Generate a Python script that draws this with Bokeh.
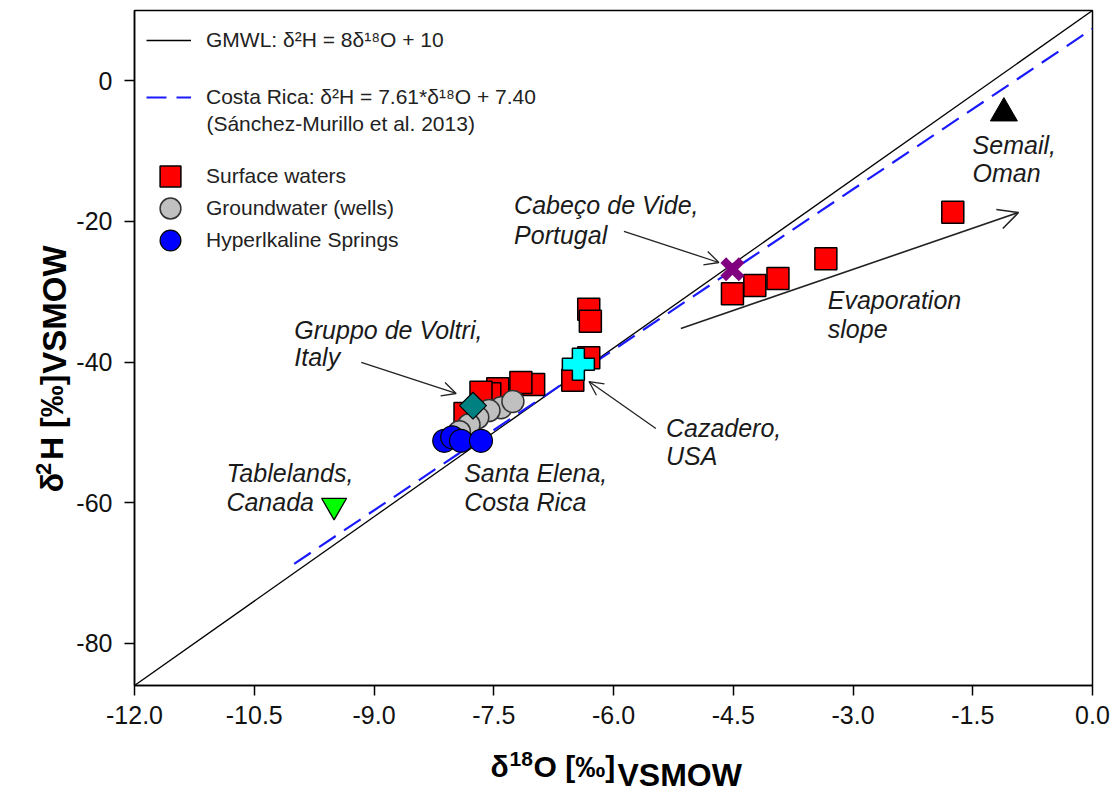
import numpy as np
from bokeh.plotting import figure
from bokeh.layouts import row, column
from bokeh.models import (Range1d, FixedTicker, Label, Arrow, OpenHead, Legend,
                          LegendItem, NumeralTickFormatter)
from bokeh.embed import file_html
from bokeh.resources import INLINE

# ---------------- data ----------------
x_ticks = [-12.0, -10.5, -9.0, -7.5, -6.0, -4.5, -3.0, -1.5, 0.0]
y_ticks = [0, -20, -40, -60, -80]

# Global meteoric water line and Costa Rica LMWL (end points)
gmwl_x = [-12.0, 0.0]
gmwl_y = [-86.0, 10.0]
cr_x = [-10.0, 0.0]
cr_y = [-68.7, 7.4]

# Surface waters (red squares)
sw_x = [-1.75, -3.34, -3.94, -4.23, -4.51, -6.31, -6.29, -6.31, -6.51,
        -7.00, -7.16, -7.45, -7.55, -7.66, -7.86]
sw_y = [-18.7, -25.3, -28.1, -29.1, -30.3, -32.5, -34.2, -39.4, -42.6,
        -43.2, -42.9, -43.8, -44.5, -44.3, -47.3]

# Groundwater (wells) grey circles
gw_x = [-7.41, -7.26, -7.56, -7.70, -7.81, -7.93]
gw_y = [-46.5, -45.6, -46.9, -47.9, -48.9, -49.9]

# Hyperalkaline springs (blue circles)
hs_x = [-8.12, -8.02, -7.91, -7.66]
hs_y = [-51.2, -50.7, -51.2, -51.2]

# Reference sites
voltri_x, voltri_y = [-7.76], [-46.2]      # Gruppo de Voltri, Italy
cazadero_x, cazadero_y = [-6.44], [-40.3]  # Cazadero, USA
cabeco_x, cabeco_y = [-4.51], [-26.8]      # Cabeço de Vide, Portugal
semail_x, semail_y = [-1.11], [-4.6]       # Semail, Oman
table_x, table_y = [-9.50], [-60.4]        # Tablelands, Canada

# ---------------- main figure ----------------
YW = 73     # width of the y-title strip
TOPH = 745  # height of the upper row
p = figure(width=1112 - YW, height=TOPH, x_range=Range1d(-12, 0), y_range=Range1d(-86, 10),
           output_backend="svg", toolbar_location=None,
           min_border_left=133 - YW, min_border_right=20, min_border_top=10,
           min_border_bottom=TOPH - 685)
p.grid.visible = False
p.outline_line_color = "black"
p.outline_line_width = 1.5
p.background_fill_color = "white"
p.border_fill_color = "white"

for ax in (p.xaxis[0], p.yaxis[0]):
    ax.axis_line_width = 1.5
    ax.axis_line_color = "black"
    ax.major_tick_line_width = 1.5
    ax.major_tick_line_color = "black"
    ax.major_tick_out = 10
    ax.major_tick_in = 0
    ax.minor_tick_out = 0
    ax.minor_tick_in = 0
    ax.major_label_text_font = "Liberation Sans"
    ax.major_label_text_font_size = "25px"
    ax.major_label_text_color = "#111111"

p.xaxis.ticker = FixedTicker(ticks=x_ticks)
p.xaxis.formatter = NumeralTickFormatter(format="0.0")
p.xaxis.major_label_standoff = 10
p.yaxis.ticker = FixedTicker(ticks=y_ticks)
p.yaxis.formatter = NumeralTickFormatter(format="0")
p.yaxis.major_label_standoff = 12

# lines
r_g = p.line(gmwl_x, gmwl_y, line_color="black", line_width=1.3)
r_cr = p.line(cr_x, cr_y, line_color="#1a1aff", line_width=2.2, line_dash="20 10")

# arrows
def arrow(x0, y0, x1, y1, size=14, lw=1.3):
    p.add_layout(Arrow(x_start=x0, y_start=y0, x_end=x1, y_end=y1,
                       line_color="#222222", line_width=lw,
                       end=OpenHead(size=size, line_width=lw, line_color="#222222")))

arrow(-5.156, -35.23, -0.927, -18.73, size=20, lw=1.6)   # evaporation slope
arrow(-5.869, -21.43, -4.680, -25.84)                    # Cabeço de Vide
arrow(-9.160, -40.06, -7.971, -44.47)                    # Gruppo de Voltri
arrow(-5.469, -49.45, -6.307, -42.77)                    # Cazadero

# points
r_sw = p.scatter(sw_x, sw_y, marker="square", size=22, fill_color="#ff0000",
                 line_color="black", line_width=1.5)
r_gw = p.scatter(gw_x, gw_y, marker="circle", size=22, fill_color="#c0c0c0",
                 line_color="#333333", line_width=1.5)
r_hs = p.scatter(hs_x, hs_y, marker="circle", size=23, fill_color="#0000ff",
                 line_color="black", line_width=1.2)
p.scatter(voltri_x, voltri_y, marker="square", angle=np.pi / 4, size=19,
          fill_color="#008080", line_color="black", line_width=1.2)
p.scatter(cazadero_x, cazadero_y, marker="plus", size=32, fill_color="#00ffff",
          line_color="black", line_width=1.5)
p.scatter(cabeco_x, cabeco_y, marker="x", size=26, line_color="#800080", line_width=8)
p.scatter(semail_x, semail_y, marker="triangle", size=27, fill_color="black",
          line_color="black")
p.scatter(table_x, table_y, marker="inverted_triangle", size=25, fill_color="#00ff00",
          line_color="black", line_width=1.3)

# legends
common = dict(padding=0, margin=0, border_line_color=None, background_fill_alpha=0,
              label_text_font="Liberation Sans", label_text_font_size="21px",
              label_text_color="#222222")
leg1 = Legend(items=[LegendItem(label="GMWL: δ²H = 8δ¹⁸O + 10", renderers=[r_g]),
                     LegendItem(label="Costa Rica: δ²H = 7.61*δ¹⁸O + 7.40", renderers=[r_cr])],
              location=(12, 570), glyph_width=45, glyph_height=36, label_standoff=15,
              spacing=21, **common)
p.add_layout(leg1)
for lbl, rend, vy in [("Surface waters", r_sw, 483),
                      ("Groundwater (wells)", r_gw, 451),
                      ("Hyperlkaline Springs", r_hs, 419)]:
    p.add_layout(Legend(items=[LegendItem(label=lbl, renderers=[rend])],
                        location=(10, vy), glyph_width=52, glyph_height=52,
                        label_standoff=10, spacing=0, **common))


def lab(fig, x, y, text, size="25px", style="italic", angle=0.0, color="#1a1a1a",
        align="left", baseline="alphabetic"):
    fig.add_layout(Label(x=x, y=y, text=text, text_font="Liberation Sans",
                         text_font_style=style, text_font_size=size, text_color=color,
                         text_align=align, text_baseline=baseline, angle=angle))

lab(p, -11.099, -6.08, "(Sánchez-Murillo et al. 2013)", size="21px", style="normal",
    color="#222222")

# annotations
dy = 1.14
lab(p, -7.245, -18.87 + dy, "Cabeço de Vide,")
lab(p, -7.245, -23.00 + dy, "Portugal")
lab(p, -9.998, -36.51 + dy, "Gruppo de Voltri,")
lab(p, -9.998, -40.49 + dy, "Italy")
lab(p, -5.343, -50.45 + dy, "Cazadero,")
lab(p, -5.343, -54.43 + dy, "USA")
lab(p, -10.849, -56.85 + dy, "Tablelands,")
lab(p, -10.849, -61.11 + dy, "Canada")
lab(p, -7.871, -56.85 + dy, "Santa Elena,")
lab(p, -7.871, -61.11 + dy, "Costa Rica")
lab(p, -1.502, -10.20 + dy, "Semail,")
lab(p, -1.502, -14.32 + dy, "Oman")
lab(p, -3.316, -32.38 + dy, "Evaporation")
lab(p, -3.316, -36.37 + dy, "slope")


def strip(w, h, y0):
    f = figure(width=w, height=h, x_range=Range1d(0, w), y_range=Range1d(y0 + h, y0),
               output_backend="svg", toolbar_location=None, x_axis_location=None,
               y_axis_location=None, min_border=0)
    f.grid.visible = False
    f.outline_line_color = None
    f.background_fill_color = "white"
    f.border_fill_color = "white"
    return f

B = dict(style="bold", color="black")

# y-axis title strip (coordinates in page pixels, centre-anchored pieces)
yfig = strip(YW, TOPH, 0)
ang = np.pi / 2
rot = dict(angle=ang, align="center", baseline="middle", **B)
lab(yfig, 51, 521, "δ", size="32px", **rot)
lab(yfig, 43, 506, "2", size="22px", **rot)
lab(yfig, 51, 449, "H [‰]", size="32px", **rot)
lab(yfig, 54, 330, "VSMOW", size="33px", **rot)

# x-axis title strip
xfig = strip(1112, 792 - TOPH, TOPH)
lab(xfig, 490, 766, "δ", size="30px", baseline="middle", **B)
lab(xfig, 509, 758, "18", size="21px", baseline="middle", **B)
lab(xfig, 533, 766, "O [‰]", size="30px", baseline="middle", **B)
lab(xfig, 617, 774, "VSMOW", size="32px", baseline="middle", **B)

layout = column(row(yfig, p, spacing=0), xfig, spacing=0)
open("out.html", "w").write(file_html(layout, INLINE))
